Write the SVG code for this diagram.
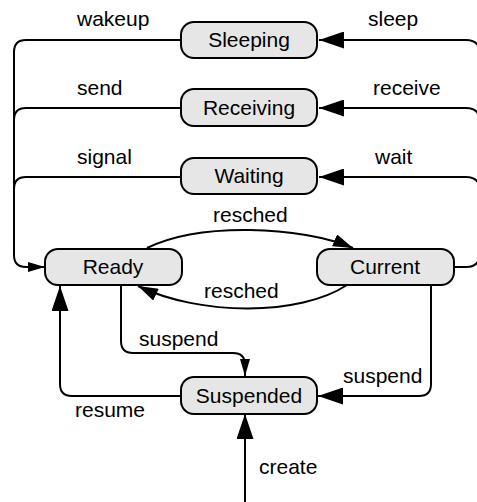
<svg xmlns="http://www.w3.org/2000/svg" width="477" height="502" viewBox="0 0 477 502">
  <style>
    .state rect { fill: #e6e6e6; stroke: #000; stroke-width: 2; }
    text { font-family: "Liberation Sans", Arial, sans-serif; font-size: 21px; fill: #000; }
    .state text { text-anchor: middle; }
    .edge { fill: none; stroke: #000; stroke-width: 2; }
    .big { marker-end: url(#arrowBig); }
    .small { marker-end: url(#arrowSmall); }
    .mid { marker-end: url(#arrowMid); }
  </style>
  <defs>
    <marker id="arrowBig" markerUnits="userSpaceOnUse" markerWidth="25" markerHeight="17" refX="25" refY="8.5" orient="auto">
      <path d="M0,0 L25,8.5 L0,17 z" fill="#000"/>
    </marker>
    <marker id="arrowMid" markerUnits="userSpaceOnUse" markerWidth="20" markerHeight="13" refX="20" refY="6.5" orient="auto">
      <path d="M0,0 L20,6.5 L0,13 z" fill="#000"/>
    </marker>
    <marker id="arrowSmall" markerUnits="userSpaceOnUse" markerWidth="17" markerHeight="10" refX="17" refY="5" orient="auto">
      <path d="M0,0 L17,5 L0,10 z" fill="#000"/>
    </marker>
  </defs>
  <rect width="477" height="502" fill="#fff"/>

  <g id="connectors">
    <!-- left bus: blocked states back to Ready -->
    <path class="edge small" d="M180,40 H26 Q14,40 14,52 V255 Q14,267 26,267 H45"/>
    <path class="edge" d="M180,108 H26 Q14,108 14,120"/>
    <path class="edge" d="M180,177 H26 Q14,177 14,189"/>
    <!-- right bus: Current into blocked states -->
    <path class="edge big" d="M455,267 H466 Q480,267 480,253 V54 Q480,40 466,40 H319"/>
    <path class="edge big" d="M480,122 Q480,108 466,108 H319"/>
    <path class="edge big" d="M480,191 Q480,177 466,177 H319"/>
    <!-- resched both ways -->
    <path class="edge mid" d="M147,248 C200,222 300,226 353,248"/>
    <path class="edge mid" d="M347,285 C300,316 200,316 138,286"/>
    <!-- suspend from Ready -->
    <path class="edge small" d="M121,285 V341 Q121,353 133,353 H233 Q245,353 245,365 V376"/>
    <!-- suspend from Current -->
    <path class="edge big" d="M431,285 V384 Q431,396 419,396 H318"/>
    <!-- resume -->
    <path class="edge big" d="M180,396 H72 Q60,396 60,384 V286"/>
    <!-- create -->
    <path class="edge big" d="M245,502 V414"/>
  </g>

  <g id="labels">
    <text x="77" y="26">wakeup</text>
    <text x="368" y="26">sleep</text>
    <text x="77" y="95">send</text>
    <text x="373" y="95">receive</text>
    <text x="77" y="164">signal</text>
    <text x="375" y="164">wait</text>
    <text x="213" y="222">resched</text>
    <text x="204" y="298">resched</text>
    <text x="139" y="346">suspend</text>
    <text x="343" y="383">suspend</text>
    <text x="75" y="417">resume</text>
    <text x="259" y="474">create</text>
  </g>

  <g id="sleeping" class="state">
    <rect x="181" y="22" width="136" height="36" rx="13"/>
    <text x="249" y="47">Sleeping</text>
  </g>
  <g id="receiving" class="state">
    <rect x="181" y="89" width="136" height="37" rx="13"/>
    <text x="249" y="115">Receiving</text>
  </g>
  <g id="waiting" class="state">
    <rect x="181" y="158" width="136" height="36" rx="13"/>
    <text x="249" y="183">Waiting</text>
  </g>
  <g id="ready" class="state">
    <rect x="45" y="249" width="137" height="36" rx="13"/>
    <text x="113" y="274">Ready</text>
  </g>
  <g id="current" class="state">
    <rect x="317" y="249" width="137" height="36" rx="13"/>
    <text x="385" y="274">Current</text>
  </g>
  <g id="suspended" class="state">
    <rect x="181" y="377" width="136" height="37" rx="13"/>
    <text x="249" y="403">Suspended</text>
  </g>
</svg>
